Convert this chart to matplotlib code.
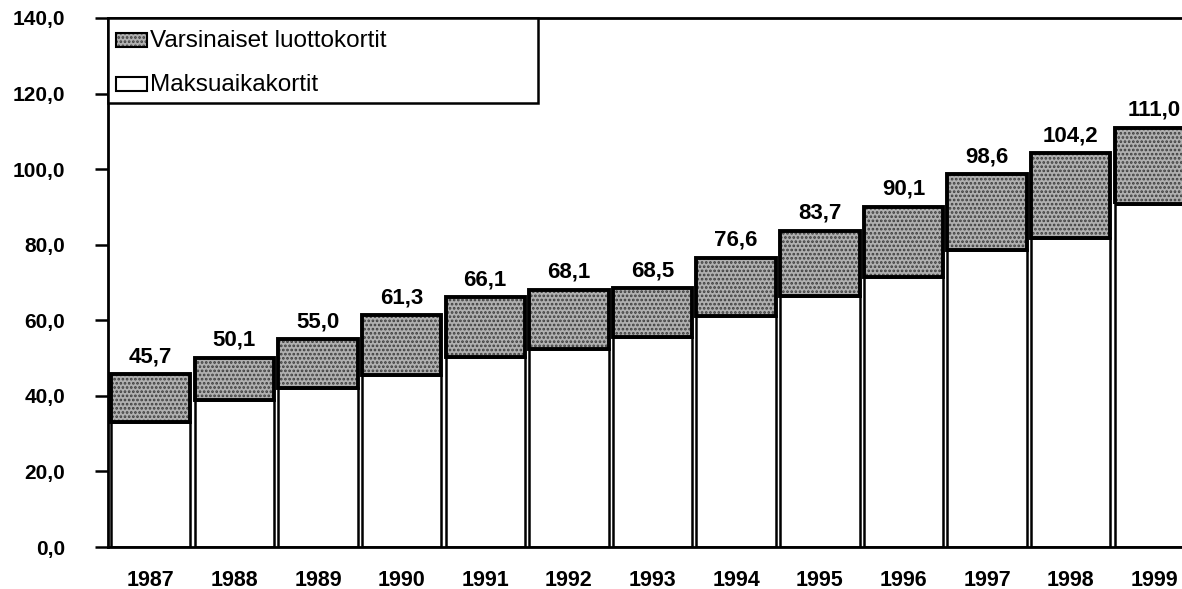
import matplotlib
matplotlib.use("Agg")
import matplotlib.pyplot as plt
from matplotlib.patches import Rectangle
import numpy as np

years = ["1987", "1988", "1989", "1990", "1991", "1992", "1993",
         "1994", "1995", "1996", "1997", "1998", "1999"]
totals = [45.7, 50.1, 55.0, 61.3, 66.1, 68.1, 68.5, 76.6, 83.7, 90.1, 98.6, 104.2, 111.0]
maksuaika = [33.1, 38.8, 42.2, 45.6, 50.3, 52.5, 55.6, 61.1, 66.3, 71.4, 78.5, 81.8, 90.8]
total_labels = ["45,7", "50,1", "55,0", "61,3", "66,1", "68,1", "68,5",
                "76,6", "83,7", "90,1", "98,6", "104,2", "111,0"]
yticks = [0, 20, 40, 60, 80, 100, 120, 140]
ytick_labels = ["0,0", "20,0", "40,0", "60,0", "80,0", "100,0", "120,0", "140,0"]

luotto = [t - m for t, m in zip(totals, maksuaika)]

plt.rcParams['font.family'] = ['Liberation Sans', 'DejaVu Sans']
plt.rcParams['hatch.linewidth'] = 1.3

GRAY = "#b0b0b0"
SPECK = "#3c3c3c"

W, H = 1182, 589
fig = plt.figure(figsize=(W / 100, H / 100), dpi=100)
ax = fig.add_axes([108 / W, 1 - 547 / H, 1 - 108 / W, (547 - 18) / H])

x = np.arange(len(years))
bw = 0.95

# white bottom segment
ax.bar(x, maksuaika, width=bw, color="white", edgecolor="black", linewidth=1.8, zorder=2)
# speckled top segment
ax.bar(x, luotto, bottom=maksuaika, width=bw, color=GRAY, edgecolor=SPECK,
       hatch="....", linewidth=0, zorder=2)
ax.bar(x, luotto, bottom=maksuaika, width=bw, fill=False, edgecolor="black",
       linewidth=2.8, zorder=3)

for xi, t, lab in zip(x, totals, total_labels):
    ax.text(xi, t + 3.2, lab, ha="center", va="baseline", fontsize=16,
            fontweight="bold", zorder=4)

ax.set_xlim(-0.51, 12.33)
ax.set_ylim(0, 140)
ax.set_yticks(yticks)
ax.set_yticklabels(ytick_labels, fontsize=15, fontweight="bold")
ax.set_xticks(x)
ax.set_xticklabels(years, fontsize=15.5, fontweight="bold")
ax.tick_params(axis="y", direction="out", length=9.4, width=1.8, pad=21.5)
ax.tick_params(axis="x", length=0, pad=16.5)

for s in ["left", "bottom", "top"]:
    ax.spines[s].set_linewidth(2.0)
ax.spines["right"].set_visible(False)

# legend box
lw_frac = (538 - 108) / (W - 108)
lh_frac = (103 - 18) / (547 - 18)
ax.add_patch(Rectangle((0, 1 - lh_frac), lw_frac, lh_frac, transform=ax.transAxes,
                       facecolor="white", edgecolor="black", linewidth=1.8,
                       zorder=5, clip_on=False))

def ax_frac(px, py):
    return ((px - 108) / (W - 108), (547 - py) / (547 - 18))

# legend handles
hx0, hy0 = ax_frac(116, 47)
hx1, hy1 = ax_frac(147, 33)
ax.add_patch(Rectangle((hx0, hy0), hx1 - hx0, hy1 - hy0, transform=ax.transAxes,
                       facecolor=GRAY, edgecolor=SPECK, hatch="....",
                       linewidth=0, zorder=6))
ax.add_patch(Rectangle((hx0, hy0), hx1 - hx0, hy1 - hy0, transform=ax.transAxes,
                       fill=False, edgecolor="black", linewidth=1.5, zorder=7))
gx0, gy0 = ax_frac(116, 91)
gx1, gy1 = ax_frac(147, 77)
ax.add_patch(Rectangle((gx0, gy0), gx1 - gx0, gy1 - gy0, transform=ax.transAxes,
                       facecolor="white", edgecolor="black", linewidth=1.5, zorder=7))

tx, ty1 = ax_frac(150, 41)
_, ty2 = ax_frac(150, 85)
ax.text(tx, ty1, "Varsinaiset luottokortit", transform=ax.transAxes, fontsize=17.5,
        va="center", ha="left", zorder=8)
ax.text(tx, ty2, "Maksuaikakortit", transform=ax.transAxes, fontsize=17.5,
        va="center", ha="left", zorder=8)

fig.savefig("out.png", dpi=100)
